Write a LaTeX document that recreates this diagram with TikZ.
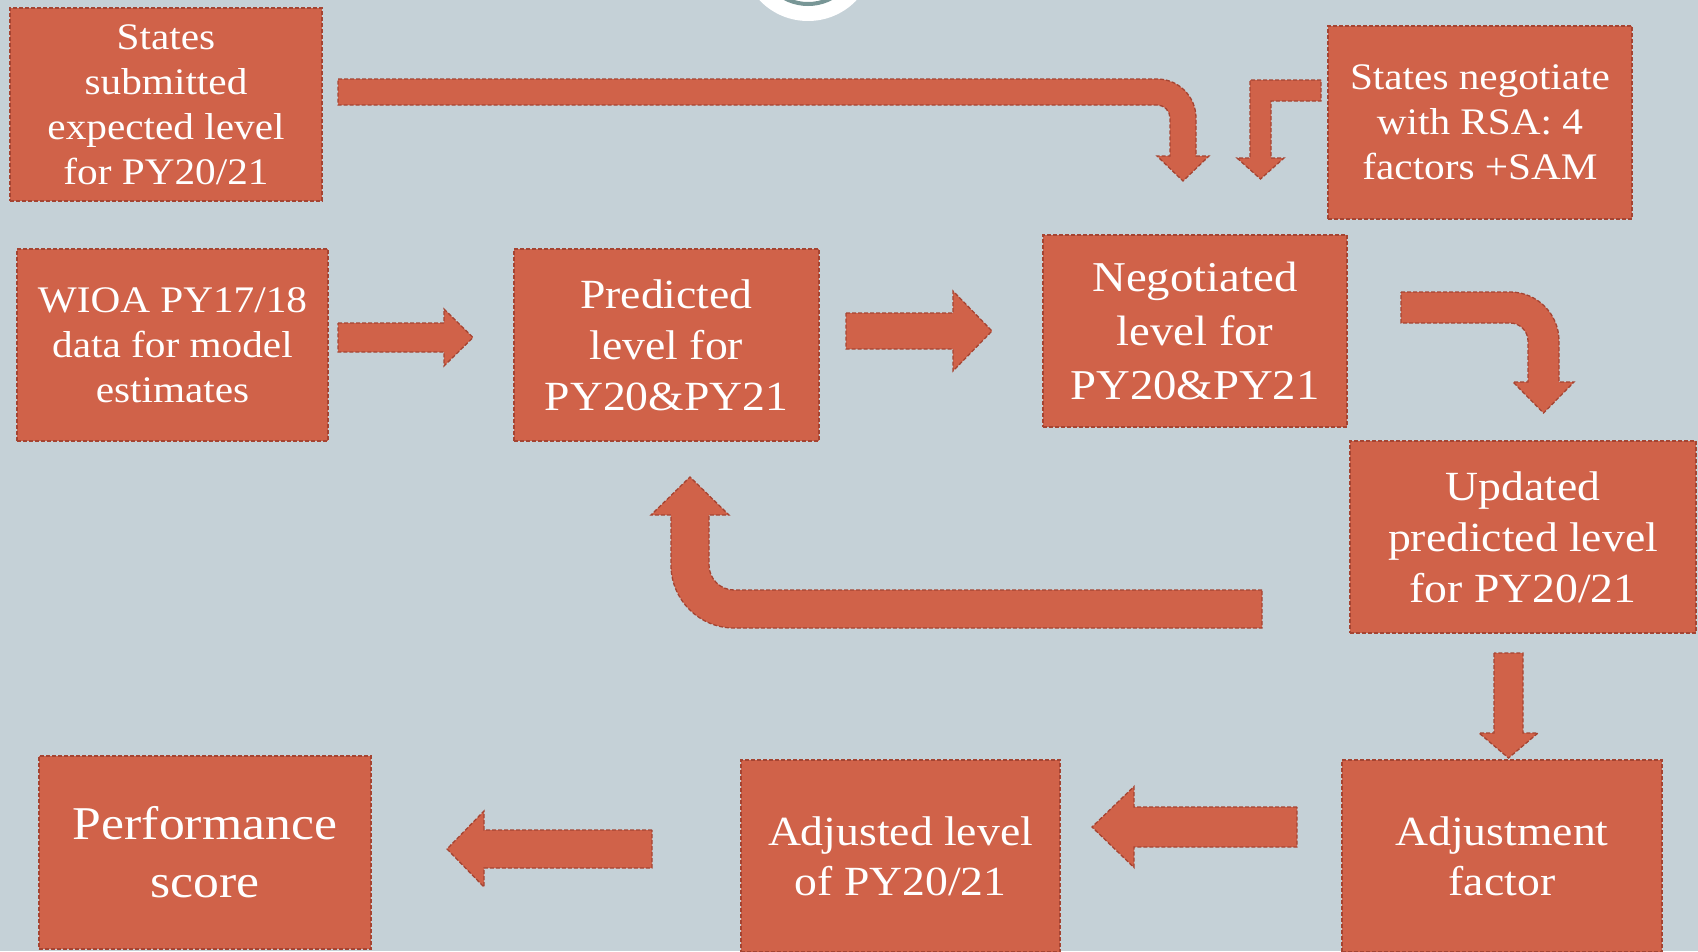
\documentclass[tikz,border=0pt]{standalone}
\usepackage{fontspec}
\setmainfont{Liberation Serif}[FakeStretch=1.10]
\definecolor{bgc}{HTML}{C5D1D7}
\definecolor{boxc}{HTML}{D06249}
\definecolor{bordc}{HTML}{A54432}
\definecolor{ringc}{HTML}{789696}
\newcommand\hblock[6]{\path[blk] (#1,#4-#5) -- (#2,#4-#5) -- (#2,#4-#6) -- (#3,#4) -- (#2,#4+#6) -- (#2,#4+#5) -- (#1,#4+#5) -- cycle;}
\newcommand\vblock[6]{\path[blk] (#4-#5,#1) -- (#4-#5,#2) -- (#4-#6,#2) -- (#4,#3) -- (#4+#6,#2) -- (#4+#5,#2) -- (#4+#5,#1) -- cycle;}
\begin{document}
\begin{tikzpicture}[x=1pt,y=-1pt,
  box/.style={draw=bordc, fill=boxc, dash pattern=on 4pt off 2pt, line width=1.3pt,
    text=white, align=center, inner sep=0pt, rectangle},
  fs/.style={font=\fontsize{37.5}{45}\selectfont},
  fm/.style={font=\fontsize{41.5}{51}\selectfont},
  fn/.style={font=\fontsize{42.5}{54}\selectfont},
  fa/.style={font=\fontsize{41.5}{50}\selectfont},
  fl/.style={font=\fontsize{47}{58}\selectfont},
  blk/.style={draw=bordc, fill=boxc, dash pattern=on 4pt off 2pt, line width=1.3pt}]
\useasboundingbox (0,0) rectangle (1698,951);
\fill[bgc] (0,0) rectangle (1698,951);
% logo at top
\fill[white] (808,-46) circle[radius=67pt];
\draw[ringc, line width=4pt] (808,-46) circle[radius=50pt];
% boxes
\node[box, fs, minimum width=312pt, minimum height=193pt] (s1) at (166,104.5) {States\\submitted\\expected level\\for PY20/21};
\node[box, fs, minimum width=311pt, minimum height=192pt] (wioa) at (172.5,345) {WIOA PY17/18\\data for model\\estimates};
\node[box, fm, minimum width=305pt, minimum height=192pt] (pred) at (666.5,345) {Predicted\\level for\\PY20\&PY21};
\node[box, fn, minimum width=304pt, minimum height=192pt] (neg) at (1195,331) {Negotiated\\level for\\PY20\&PY21};
\node[box, fs, minimum width=304pt, minimum height=193pt] (sneg) at (1480,122.5) {States negotiate\\with RSA: 4\\factors +SAM};
\node[box, fm, minimum width=346pt, minimum height=192pt] (upd) at (1523,537) {Updated\\predicted level\\for PY20/21};
\node[box, fa, minimum width=320pt, minimum height=192pt] (adjf) at (1502,856) {Adjustment\\factor};
\node[box, fa, minimum width=319pt, minimum height=192pt] (adjl) at (900.5,856) {Adjusted level\\of PY20/21};
\node[box, fl, minimum width=332pt, minimum height=193pt] (perf) at (205,852.5) {Performance\\score};
% top long bent arrow (s1 -> neg)
\path[blk] (338,79) -- (1157,79) .. controls (1178.5,79) and (1196,96.5) .. (1196,118)
  -- (1196,156) -- (1209,156) -- (1183,181) -- (1157,156) -- (1170,156) -- (1170,118)
  .. controls (1170,110.8) and (1164.2,105) .. (1157,105) -- (338,105) -- cycle;
% small L arrow (sneg -> neg)
\path[blk] (1321,80) -- (1250,80) -- (1250,158) -- (1237,158) -- (1260.5,179) -- (1284,158)
  -- (1271,158) -- (1271,101) -- (1321,101) -- cycle;
% neg -> upd
\path[blk] (1401,292) -- (1510,292) .. controls (1537.1,292) and (1559,313.9) .. (1559,341)
  -- (1559,382) -- (1574,382) -- (1543.5,413) -- (1513,382) -- (1528,382) -- (1528,341)
  .. controls (1528,331.1) and (1519.9,323) .. (1510,323) -- (1401,323) -- cycle;
% upd -> pred (U-turn)
\path[blk] (1262,590) -- (734,590) .. controls (720.2,590) and (709,578.8) .. (709,565)
  -- (709,515) -- (729,515) -- (690,477) -- (651,515) -- (671,515) -- (671,565)
  .. controls (671,599.8) and (699.2,628) .. (734,628) -- (1262,628) -- cycle;
% straight arrows
\hblock{338}{444}{473}{337.5}{14.5}{28.5}
\hblock{846}{953}{992}{331}{18}{40}
\vblock{653}{733}{758}{1508.5}{14.5}{29.5}
\hblock{1297}{1134}{1092}{827}{20}{40.5}
\hblock{652}{484}{447}{849}{19}{38}
\end{tikzpicture}
\end{document}
